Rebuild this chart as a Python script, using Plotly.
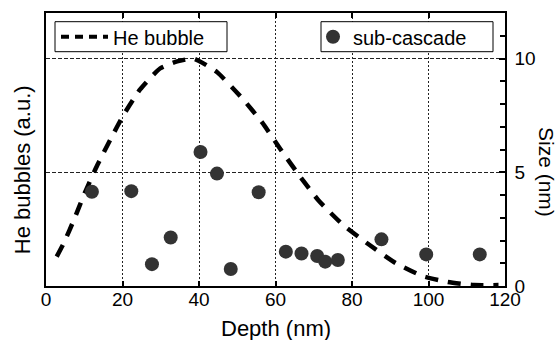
import plotly.graph_objects as go

# He bubble profile (dashed curve)
he_depth = [2.8, 4.7, 7.6, 10.2, 13.4, 17.0, 20.2, 24.6, 29.8, 34.3, 38.5, 40.8, 44.8,
            51.3, 56.5, 61.5, 66.0, 71.2, 77.7, 84.6, 91.4, 98.4, 105.0, 111.8, 118.3]
he_value = [1.29, 1.90, 3.03, 4.12, 5.31, 6.49, 7.50, 8.64, 9.56, 9.87, 10.0, 9.82, 9.39,
            8.25, 7.19, 5.96, 4.91, 3.77, 2.68, 1.80, 1.01, 0.44, 0.18, 0.04, 0.04]

# sub-cascade sizes
sc_depth = [12.0, 22.3, 27.7, 32.6, 40.4, 44.7, 48.3, 55.6, 62.7, 66.8, 70.9, 73.0, 76.3,
            87.7, 99.4, 113.4]
sc_size = [4.14, 4.17, 0.96, 2.13, 5.89, 4.94, 0.75, 4.12, 1.51, 1.43, 1.32, 1.07, 1.14,
           2.05, 1.39, 1.39]

x_ticks = [0, 20, 40, 60, 80, 100, 120]
y2_ticks = [0, 5, 10]

FONT = "Liberation Sans, Arial, Helvetica, sans-serif"
GRID = "#222222"

# plot-area geometry (px) used for placing legend frames
PL, PR, PT, PB = 46, 505, 13, 286
def px_x(v):
    return (v - PL) / (PR - PL)
def px_y(v):
    return (PB - v) / (PB - PT)

fig = go.Figure()

# dashed curve (plot)
fig.add_trace(go.Scatter(
    x=he_depth, y=he_value, mode="lines", yaxis="y", showlegend=False,
    line=dict(color="black", width=4.5, dash="13px,10px", shape="spline", smoothing=0.5),
    hoverinfo="skip"))
# legend entry for the curve
fig.add_trace(go.Scatter(
    x=[None], y=[None], mode="lines", yaxis="y", name="He bubble",
    line=dict(color="black", width=4, dash="8px,6px"), legend="legend"))

fig.add_trace(go.Scatter(
    x=sc_depth, y=sc_size, mode="markers", yaxis="y2", name="sub-cascade",
    marker=dict(color="#333333", size=14, line=dict(width=0)), legend="legend2"))

box_top, box_bot = 21.7, 51.7
box_mid = (box_top + box_bot) / 2

fig.update_layout(
    width=560, height=340,
    margin=dict(l=PL, r=560 - PR, t=PT, b=340 - PB),
    paper_bgcolor="white", plot_bgcolor="white",
    font=dict(family=FONT, size=19, color="black"),
    xaxis=dict(range=[0, 120], tickvals=x_ticks, ticks="inside", ticklen=5, tickwidth=1.5,
               tickcolor="black", showline=True, linecolor="black", linewidth=1.5,
               mirror="ticks", showgrid=True, gridcolor=GRID, gridwidth=1,
               griddash="2px,2px", zeroline=False, tickfont=dict(size=19),
               ticklabelstandoff=-5),
    yaxis=dict(range=[0, 12], showticklabels=False, ticks="", showline=True,
               linecolor="black", linewidth=1.5, showgrid=False, zeroline=False),
    yaxis2=dict(range=[0, 12], overlaying="y", side="right", tickvals=y2_ticks,
                ticks="inside", ticklen=6, tickwidth=1.5, tickcolor="black",
                showline=True, linecolor="black", linewidth=1.5,
                showgrid=True, gridcolor=GRID, gridwidth=1, griddash="4px,2px",
                zeroline=False, tickfont=dict(size=19), ticklabelstandoff=4,
                minor=dict(dtick=1, ticks="inside", ticklen=5, tickcolor="black",
                           showgrid=False)),
    legend=dict(x=px_x(56), y=px_y(box_mid), xanchor="left", yanchor="middle",
                borderwidth=0, bgcolor="rgba(0,0,0,0)", itemwidth=47,
                font=dict(size=20)),
    legend2=dict(x=px_x(313), y=px_y(box_mid), xanchor="left", yanchor="middle",
                 borderwidth=0, bgcolor="rgba(0,0,0,0)", font=dict(size=20)),
    shapes=[
        dict(type="rect", xref="paper", yref="paper", x0=px_x(55), x1=px_x(227),
             y0=px_y(box_bot), y1=px_y(box_top), line=dict(color="black", width=1),
             fillcolor="white", layer="above"),
        dict(type="rect", xref="paper", yref="paper", x0=px_x(321), x1=px_x(493),
             y0=px_y(box_bot), y1=px_y(box_top), line=dict(color="black", width=1),
             fillcolor="white", layer="above"),
    ],
    annotations=[
        dict(text="Depth (nm)", x=0.5, y=-0.157, xref="paper", yref="paper",
             xanchor="center", yanchor="middle", showarrow=False, font=dict(size=22)),
        dict(text="He bubbles (a.u.)", x=-0.052, y=(286 - 170) / 273, xref="paper",
             yref="paper", xanchor="center", yanchor="middle", textangle=-90,
             showarrow=False, font=dict(size=22)),
        dict(text="Size (nm)", x=1.0 + (546 - 505) / 459, y=(286 - 172) / 273,
             xref="paper", yref="paper", xanchor="center", yanchor="middle",
             textangle=90, showarrow=False, font=dict(size=21)),
    ],
)

fig.write_html("out.html")
